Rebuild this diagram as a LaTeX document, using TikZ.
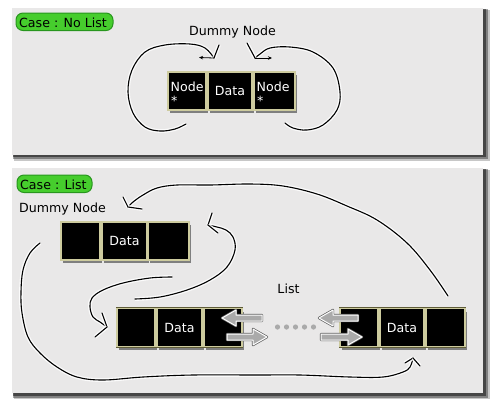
\documentclass[tikz,border=0pt]{standalone}
\usepackage{fontspec}
\setmainfont{DejaVu Sans}
\usetikzlibrary{shadows,arrows.meta}
\definecolor{panelbg}{RGB}{233,232,232}
\definecolor{cellborder}{RGB}{205,203,158}
\definecolor{cellglow}{RGB}{95,92,55}
\definecolor{glowout}{RGB}{40,150,30}
\definecolor{glowin}{RGB}{70,205,45}
\definecolor{arrowfill}{RGB}{170,170,170}
\definecolor{arrowedge}{RGB}{95,95,95}
\definecolor{dotgray}{RGB}{170,170,170}
\begin{document}
\begin{tikzpicture}[x=1pt,y=-1pt,
  cell/.style={draw=cellborder, line width=1.1pt, fill=black, inner sep=0pt,
    minimum height=38pt, text=white, font=\fontsize{12.6}{15}\selectfont,
    drop shadow={shadow xshift=2pt, shadow yshift=-3pt, opacity=0.45, fill=black},
    preaction={draw=cellglow, line width=2.6pt}},
  lbl/.style={inner sep=0pt, font=\fontsize{12.6}{15}\selectfont},
  celltxt/.style={lbl, text=white, anchor=base west},
  hand/.style={line width=1.1pt, black, line cap=round, line join=round,
    preaction={draw=white, line width=3.8pt, opacity=0.85}},
  handthin/.style={line width=0.8pt, black, line cap=round,
    -{Stealth[length=4pt,width=3.5pt]}},
  blockarrow/.style={fill=arrowfill, draw=white, line width=1pt, line join=round,
    preaction={draw=arrowedge, line width=2.4pt, line join=round}},
  glowpill/.style={fill=glowin, draw=glowout, line width=1pt, rounded corners=7pt}
]
\useasboundingbox (0,0) rectangle (500,400);
\fill[white] (0,0) rectangle (500,400);

% ---------- panels ----------
\fill[black, opacity=0.22] (14,10) rectangle (489.5,160.5);
\fill[black, opacity=0.35] (13,9) rectangle (487.5,158.5);
\fill[black, opacity=0.45] (13,9) rectangle (485.5,156.5);
\fill[panelbg] (12,8) rectangle (483,155);

\fill[black, opacity=0.22] (14,170) rectangle (489.5,399);
\fill[black, opacity=0.35] (13,169) rectangle (487.5,397.5);
\fill[black, opacity=0.45] (13,169) rectangle (485.5,395.5);
\fill[panelbg] (12,168) rectangle (483,393);

% ---------- titles ----------
\path[glowpill] (16,13) rectangle (113,30.5);
\node[lbl, anchor=base west] (t1) at (19,27) {Case : No List};
\path[glowpill] (17,175) rectangle (92,192.5);
\node[lbl, anchor=base west] (t2) at (20,189) {Case : List};

\node[lbl, anchor=base] (dn1) at (232.5,35) {Dummy Node};
\node[lbl, anchor=base west] (dn2) at (19,212) {Dummy Node};
\node[lbl, anchor=base] (lst) at (288.5,293) {List};

% ---------- panel 1 cells ----------
\node[cell, minimum width=38pt] (a1) at (187,91) {};
\node[cell, minimum width=44pt] (a2) at (230,91) {Data};
\node[cell, minimum width=41pt] (a3) at (274.5,91) {};
\node[celltxt] (a1n) at (170.5,91) {Node};
\node[celltxt] (a1s) at (171,105) {*};
\node[celltxt] (a3n) at (256.5,91) {Node};
\node[celltxt] (a3s) at (257,105) {*};

% ---------- panel 1 curves ----------
\coordinate (p1s) at (186,124);
\coordinate (p1e) at (214,58);
\draw[hand] plot[smooth, tension=0.6] coordinates {(p1s) (175,129) (160,131) (145,127) (133,113) (128,92) (132,70) (145,52) (165,45) (190,44) (205,48) (p1e)};
\draw[hand] (p1e) -- (219,45);
\draw[handthin] (p1e) -- (199,57.5);

\coordinate (p2s) at (285,123);
\coordinate (p2e) at (255,58);
\draw[hand] plot[smooth, tension=0.6] coordinates {(p2s) (293,128) (307,130) (323,125) (337,110) (340,92) (333,68) (313,52) (290,47) (270,48) (260,54) (p2e)};
\draw[hand] (p2e) -- (247,43);
\draw[handthin] (p2e) -- (272,58);

% ---------- panel 2 cells ----------
\node[cell, minimum width=39pt] (d1) at (80.5,241) {};
\node[cell, minimum width=45pt] (d2) at (124.5,241) {Data};
\node[cell, minimum width=41pt] (d3) at (168.5,241) {};

\node[cell, minimum width=38pt] (l1) at (136,327.5) {};
\node[cell, minimum width=45pt] (l2) at (179.5,327.5) {Data};
\node[cell, minimum width=38pt] (l3) at (223,327.5) {};

\node[cell, minimum width=38pt] (r1) at (359,327.5) {};
\node[cell, minimum width=44pt] (r2) at (402,327.5) {Data};
\node[cell, minimum width=39pt] (r3) at (445.5,327.5) {};

% ---------- block arrows ----------
\draw[blockarrow] (222,318) -- (236,310) -- (236,315) -- (262,315) -- (262,321) -- (236,321) -- (236,326) -- cycle;
\draw[blockarrow] (267,337) -- (253,329) -- (253,334) -- (227,334) -- (227,340) -- (253,340) -- (253,345) -- cycle;
\draw[blockarrow] (319,318) -- (333,310) -- (333,315) -- (358,315) -- (358,321) -- (333,321) -- (333,326) -- cycle;
\draw[blockarrow] (362,337) -- (348,329) -- (348,334) -- (321,334) -- (321,340) -- (348,340) -- (348,345) -- cycle;

% dots
\foreach \x in {277.5,286.5,295.5,304.5,313.5}
  \fill[dotgray] (\x,327) circle (2.6);

% ---------- panel 2 curves ----------
\coordinate (q1s) at (448,296);
\coordinate (q1e) at (128,207);
\draw[hand] plot[smooth, tension=0.6] coordinates {(q1s) (430,270) (407,243) (377,220) (347,206) (317,194) (283,186) (250,184) (210,185) (177,185) (157,188) (143,195) (133,202) (q1e)};
\draw[hand] (q1e) -- (123,197);
\draw[hand] (q1e) -- (142,209);

\coordinate (q2s) at (135,299);
\coordinate (q2e) at (208,225);
\draw[hand] plot[smooth, tension=0.6] coordinates {(q2s) (160,297) (187,290) (210,280) (227,267) (235,250) (233,237) (226,230) (217,227) (q2e)};
\draw[hand] (q2e) -- (212,213);
\draw[hand] (q2e) -- (218,233);

\coordinate (q3s) at (172,277);
\coordinate (q3e) at (107,327);
\draw[hand] plot[smooth, tension=0.6] coordinates {(q3s) (150,278) (123,283) (103,290) (92,298) (90,307) (93,317) (100,322) (q3e)};
\draw[hand] (q3e) -- (102,313);
\draw[hand] (q3e) -- (95,337);

\coordinate (q4s) at (40,243);
\coordinate (q4e) at (413,358);
\draw[hand] plot[smooth, tension=0.6] coordinates {(q4s) (30,253) (23,270) (21,292) (22,313) (28,337) (40,353) (57,367) (77,377) (103,380) (143,377) (193,375) (257,375) (300,375) (350,377) (383,377) (403,372) (410,367) (q4e)};
\draw[hand] (q4e) -- (405,363);
\draw[hand] (q4e) -- (420,366);
\end{tikzpicture}
\end{document}
